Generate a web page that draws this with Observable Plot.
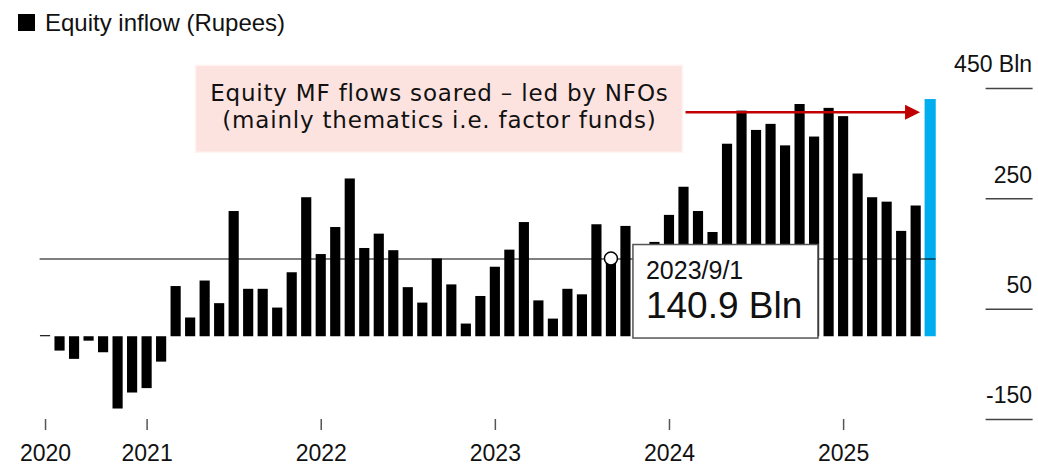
<!DOCTYPE html>
<html><head><meta charset="utf-8">
<script src="https://cdn.jsdelivr.net/npm/d3@7"></script>
<script src="https://cdn.jsdelivr.net/npm/@observablehq/plot@0.6"></script>
<style>
body{margin:0;background:#fff;font-family:"Liberation Sans",Arial,sans-serif;overflow:hidden;}
#legend{height:44px;position:relative;}
#legend .sw{position:absolute;left:18px;top:14px;width:17px;height:17px;background:#000;}
#legend .lb{position:absolute;left:45px;top:9px;font-size:24px;line-height:28px;color:#111;}
svg{display:block;}
</style></head><body>
<div id="legend"><span class="sw"></span><span class="lb">Equity inflow (Rupees)</span></div>
<div id="chart"></div>
<script>
// Months: Jun 2020 .. Jul 2025
const months = [
  "2020-06","2020-07","2020-08","2020-09","2020-10","2020-11","2020-12",
  "2021-01","2021-02","2021-03","2021-04","2021-05","2021-06","2021-07","2021-08","2021-09","2021-10","2021-11","2021-12",
  "2022-01","2022-02","2022-03","2022-04","2022-05","2022-06","2022-07","2022-08","2022-09","2022-10","2022-11","2022-12",
  "2023-01","2023-02","2023-03","2023-04","2023-05","2023-06","2023-07","2023-08","2023-09","2023-10","2023-11","2023-12",
  "2024-01","2024-02","2024-03","2024-04","2024-05","2024-06","2024-07","2024-08","2024-09","2024-10","2024-11","2024-12",
  "2025-01","2025-02","2025-03","2025-04","2025-05","2025-06","2025-07"
];
// Equity inflow, billion rupees
const inflow = [
  2,-26,-41,-8,-29,-131,-102,
  -94,-46,91,34,101,60,227,86,86,52,116,252,
  149,198,286,160,186,156,89,61,141,94,23,73,
  126,157,207,65,32,86,76,203,140.9,200,155,171,
  220,271,227,189,349,409,374,385,346,421,362,414,
  399,295,252,244,191,237,430
];
const yTicks = [-150, 50, 250, 450];
const yTickLabels = ["-150", "50", "250", "450 Bln"];
const xTickMonths = ["2020-06","2021-01","2022-01","2023-01","2024-01","2025-01"];
const xTickLabels = ["2020","2021","2022","2023","2024","2025"];
const lastMonth = "2025-07";
const highlightMonth = "2023-09";
const highlightDate = "2023/9/1";
const highlightValue = 140.9;
const annotationLines = ["Equity MF flows soared \u2013 led by NFOs", "(mainly thematics i.e. factor funds)"];
const annotationArrowValue = 406;
const annotationRightMonth = "2024-04";

const barData = months.map((m, i) => ({month: m, value: inflow[i]}));
const PAD = 0.3;

function overlay(index, scales) {
  const x = scales.x, y = scales.y;
  const step = x(months[1]) - x(months[0]);
  const bw = step * (1 - PAD);
  const cx = m => x(m) + bw / 2;
  const g = d3.create("svg:g").attr("text-anchor", "start");

  // annotation box + arrow
  const ay = y(annotationArrowValue);
  const boxRight = cx(annotationRightMonth) - 30;
  const boxW = 487, boxLeft = boxRight - boxW;
  g.append("rect").attr("x", boxLeft).attr("y", ay - 47).attr("width", boxW).attr("height", 87)
    .attr("fill", "#fde3df").attr("stroke", "#fff4f2").attr("stroke-width", 1.5);
  const tc = boxLeft + boxW / 2 + 0.4;
  const annFont = "'DejaVu Sans', 'Noto Sans', sans-serif";
  g.append("text").attr("x", tc).attr("y", ay - 11).attr("text-anchor", "middle")
    .attr("font-family", annFont).attr("font-size", 23).attr("letter-spacing", 0.8).attr("fill", "#111")
    .text(annotationLines[0]);
  g.append("text").attr("x", tc).attr("y", ay + 16).attr("text-anchor", "middle")
    .attr("font-family", annFont).attr("font-size", 23).attr("letter-spacing", 0.8).attr("fill", "#111")
    .text(annotationLines[1]);
  const arrowEnd = cx(lastMonth) - bw / 2 - 5;
  g.append("line").attr("x1", boxRight + 3).attr("x2", arrowEnd - 12).attr("y1", ay).attr("y2", ay)
    .attr("stroke", "#c00000").attr("stroke-width", 2.5);
  g.append("path").attr("d", `M${arrowEnd},${ay} L${arrowEnd - 15},${ay - 7.5} L${arrowEnd - 15},${ay + 7.5} Z`)
    .attr("fill", "#c00000");

  // highlight point + tooltip
  const px = cx(highlightMonth), py = y(highlightValue);
  g.append("circle").attr("cx", px).attr("cy", py).attr("r", 6.5)
    .attr("fill", "#fff").attr("stroke", "#000").attr("stroke-width", 1.5);
  const tl = px + 22, tt = py - 14;
  g.append("rect").attr("x", tl).attr("y", tt).attr("width", 185).attr("height", 93.5)
    .attr("fill", "#fff").attr("stroke", "#555").attr("stroke-width", 1.5);
  g.append("text").attr("x", tl + 13).attr("y", tt + 34).attr("text-anchor", "start").attr("font-size", 25).attr("fill", "#111")
    .text(highlightDate);
  g.append("text").attr("x", tl + 13).attr("y", tt + 73).attr("text-anchor", "start").attr("font-size", 37).attr("fill", "#111")
    .text(highlightValue.toFixed(1) + " Bln");
  return g.node();
}

const chart = Plot.plot({
  width: 1038,
  height: 420,
  marginLeft: 35.6,
  marginRight: 98.4,
  marginTop: 44,
  marginBottom: 45,
  style: {fontFamily: "'Liberation Sans', Arial, sans-serif", fontSize: "23px", color: "#111", background: "#fff", overflow: "visible"},
  x: {type: "band", domain: months, padding: PAD, round: false, axis: null},
  y: {domain: [-150, 450], axis: null},
  marks: [
    Plot.barY(barData.filter(d => d.month !== lastMonth), {x: "month", y: "value", fill: "#000"}),
    Plot.barY(barData.filter(d => d.month === lastMonth), {x: "month", y: "value", fill: "#00aeef", insetLeft: -0.5, insetRight: -0.5}),
    Plot.ruleY([highlightValue], {stroke: "#000", strokeWidth: 1.2, insetLeft: 4, insetRight: 4}),
    Plot.axisX({ticks: xTickMonths, tickFormat: d => xTickLabels[xTickMonths.indexOf(d)], tickSize: 11, tickPadding: 14, stroke: "#555", strokeWidth: 1.5, fontSize: 23, fill: "#111", label: null}),
    Plot.axisY({anchor: "right", ticks: yTicks, tickSize: 47, dx: 45, tickFormat: () => "", stroke: "#444", strokeWidth: 1.5, label: null}),
    Plot.axisY({anchor: "right", ticks: yTicks, tickSize: 0, tickPadding: 92, textAnchor: "end", dy: -23.5,
      tickFormat: d => yTickLabels[yTicks.indexOf(d)], fontSize: 23, fill: "#111", label: null}),
    overlay
  ]
});
document.getElementById("chart").appendChild(chart);
</script>
</body></html>
